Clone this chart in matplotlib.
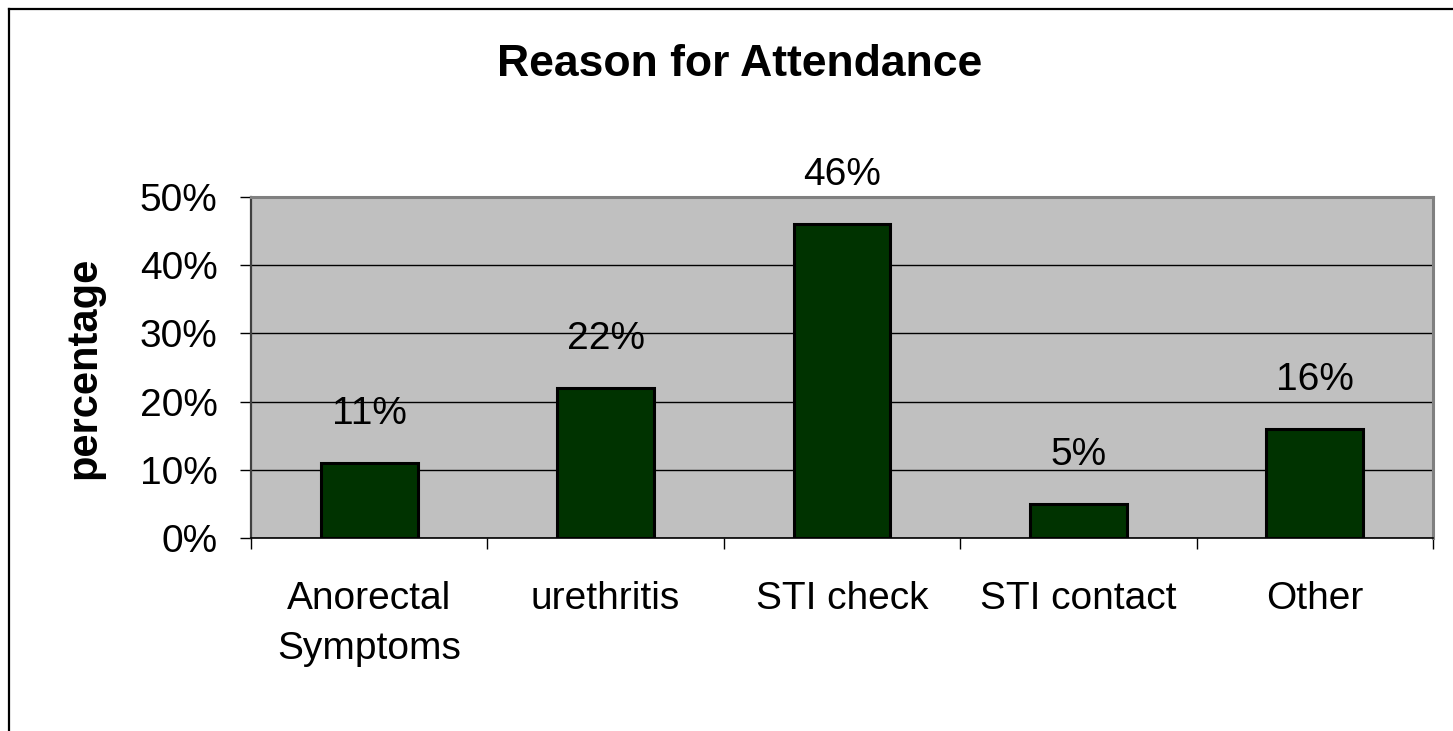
import matplotlib
matplotlib.use("Agg")
import matplotlib.pyplot as plt
from matplotlib.lines import Line2D
from matplotlib.ticker import FuncFormatter

categories = ["Anorectal\nSymptoms", "urethritis", "STI check", "STI contact", "Other"]
values = [11, 22, 46, 5, 16]
yticks = [0, 10, 20, 30, 40, 50]

plt.rcParams['font.family'] = ['Liberation Sans', 'DejaVu Sans']

W, H = 1453, 731
fig = plt.figure(figsize=(W / 100, H / 100), dpi=100)
fig.patch.set_facecolor('white')

ax = fig.add_axes([251 / W, 1 - 538 / H, (1433 - 251) / W, (538 - 197) / H])
ax.set_facecolor('#C0C0C0')

x = list(range(len(categories)))
ax.bar(x, values, width=0.41, color='#003300', edgecolor='black', linewidth=2.2, zorder=3)

ax.set_xlim(-0.5, len(categories) - 0.5)
ax.set_ylim(0, 50)
ax.set_yticks(yticks)
ax.yaxis.set_major_formatter(FuncFormatter(lambda v, p: f"{int(v)}%"))
ax.grid(axis='y', color='black', linewidth=1.0, zorder=1)
ax.set_axisbelow(True)

# x ticks at category boundaries, labels at centers
ax.set_xticks([i - 0.5 for i in range(len(categories) + 1)])
ax.set_xticklabels([])
ax.set_xticks(x, minor=True)
ax.set_xticklabels(categories, minor=True, fontsize=28, linespacing=1.5)
ax.tick_params(axis='x', which='major', length=8, width=1, color='black', direction='out')
ax.tick_params(axis='x', which='minor', length=0, pad=31)
ax.tick_params(axis='y', length=8, width=1, color='black', labelsize=28, pad=16)

for s in ['top', 'right']:
    ax.spines[s].set_color('#808080')
    ax.spines[s].set_linewidth(2.2)
ax.spines['left'].set_color('#404040')
ax.spines['left'].set_linewidth(1.6)
ax.spines['bottom'].set_color('black')
ax.spines['bottom'].set_linewidth(1.2)

for xi, v in zip(x, values):
    ax.annotate(f"{v}%", (xi, v), xytext=(0, 28), textcoords='offset points',
                ha='center', va='baseline', fontsize=28, zorder=4)

ax.set_ylabel("percentage", fontsize=30, fontweight='bold')
ax.yaxis.set_label_coords(-0.124, 0.5)

fig.text(740 / W, 1 - 76 / H, "Reason for Attendance", ha='center', va='baseline',
         fontsize=32, fontweight='bold')

# figure border (left and top visible)
fig.add_artist(Line2D([9 / W, 9 / W], [0, 1 - 8.5 / H], transform=fig.transFigure,
                      color='black', linewidth=1.6))
fig.add_artist(Line2D([9 / W, 1], [1 - 8.5 / H, 1 - 8.5 / H], transform=fig.transFigure,
                      color='black', linewidth=1.6))

fig.savefig("out.png", dpi=100)
